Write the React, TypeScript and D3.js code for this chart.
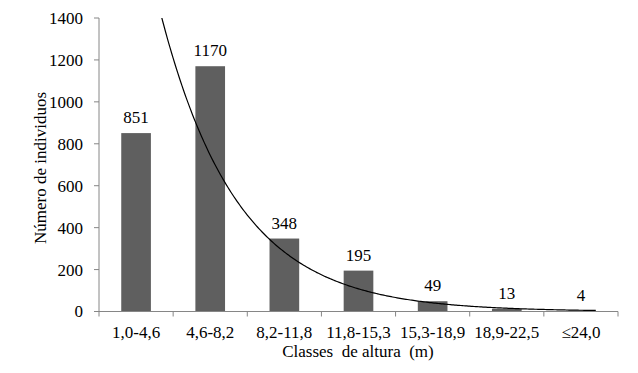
import React from "react";
import * as d3 from "d3";

const categories = ["1,0-4,6", "4,6-8,2", "8,2-11,8", "11,8-15,3", "15,3-18,9", "18,9-22,5", "≤24,0"];
const values = [851, 1170, 348, 195, 49, 13, 4];
const yTicks = [0, 200, 400, 600, 800, 1000, 1200, 1400];
const yTitle = "Número de individuos";
const xTitle = "Classes  de altura  (m)";

const W = 638, H = 373;
const left = 99, right = 618, top = 18, bottom = 311.5;
const FONT = '"Liberation Serif", Tinos, "Times New Roman", "DejaVu Serif", serif';

export default function App() {
  const x = d3.scaleBand<string>().domain(categories).range([left, right]).paddingInner(0).paddingOuter(0);
  const y = d3.scaleLinear().domain([0, 1400]).range([bottom, top]);
  const bw = x.bandwidth() * 0.4;

  // Exponential trendline (least squares on ln values, as Excel does)
  const xs = values.map((_, i) => i + 1);
  const ls = values.map((v) => Math.log(v));
  const mx = d3.mean(xs)!;
  const ml = d3.mean(ls)!;
  const b = d3.sum(xs.map((xi, i) => (xi - mx) * (ls[i] - ml))) / d3.sum(xs.map((xi) => (xi - mx) ** 2));
  const a = Math.exp(ml - b * mx);
  const xIdx = d3.scaleLinear().domain([1, 2]).range([x(categories[0])! + x.bandwidth() / 2, x(categories[1])! + x.bandwidth() / 2]);
  const pts: [number, number][] = d3.range(1, 7.22, 0.02).map((t) => [t, a * Math.exp(b * t)]);
  const line = d3.line<[number, number]>().x((d) => xIdx(d[0])).y((d) => y(d[1])).curve(d3.curveLinear);

  const axisColor = "#868686";
  const ts: React.CSSProperties = { fontFamily: FONT, fontSize: 17 };
  return (
    <svg width={W} height={H} style={{ position: "absolute", left: 0, top: 0, background: "#fff" }}>
      <defs>
        <clipPath id="plot">
          <rect x={left} y={top} width={right - left} height={bottom - top} />
        </clipPath>
      </defs>
      {categories.map((c, i) => (
        <rect key={c} x={x(c)! + (x.bandwidth() - bw) / 2} y={y(values[i])} width={bw} height={bottom - y(values[i])} fill="#5f5f5f" />
      ))}
      {categories.map((c, i) => (
        <text key={"v" + c} x={x(c)! + x.bandwidth() / 2} y={y(values[i]) - 10} textAnchor="middle" style={ts} fill="#000">
          {values[i]}
        </text>
      ))}
      <path d={line(pts) || ""} fill="none" stroke="#000" strokeWidth={1.2} clipPath="url(#plot)" />
      <line x1={left} x2={left} y1={top} y2={bottom} stroke={axisColor} strokeWidth={1} />
      {yTicks.map((t) => (
        <g key={t}>
          <line x1={left - 5} x2={left} y1={y(t)} y2={y(t)} stroke={axisColor} />
          <text x={83} y={y(t)} dy="0.35em" textAnchor="end" style={ts} fill="#000">
            {t}
          </text>
        </g>
      ))}
      <line x1={left} x2={right} y1={bottom} y2={bottom} stroke={axisColor} strokeWidth={1} />
      {[...categories.map((c) => x(c)!), right].map((px, i) => (
        <line key={i} x1={px} x2={px} y1={bottom} y2={bottom + 5} stroke={axisColor} />
      ))}
      {categories.map((c) => (
        <text key={"x" + c} x={x(c)! + x.bandwidth() / 2} y={338} textAnchor="middle" style={ts} fill="#000">
          {c}
        </text>
      ))}
      <text x={358} y={357} textAnchor="middle" style={{ ...ts, whiteSpace: "pre" }} fill="#000">
        {xTitle}
      </text>
      <text transform={`translate(46, 168) rotate(-90)`} textAnchor="middle" style={ts} fill="#000">
        {yTitle}
      </text>
    </svg>
  );
}
